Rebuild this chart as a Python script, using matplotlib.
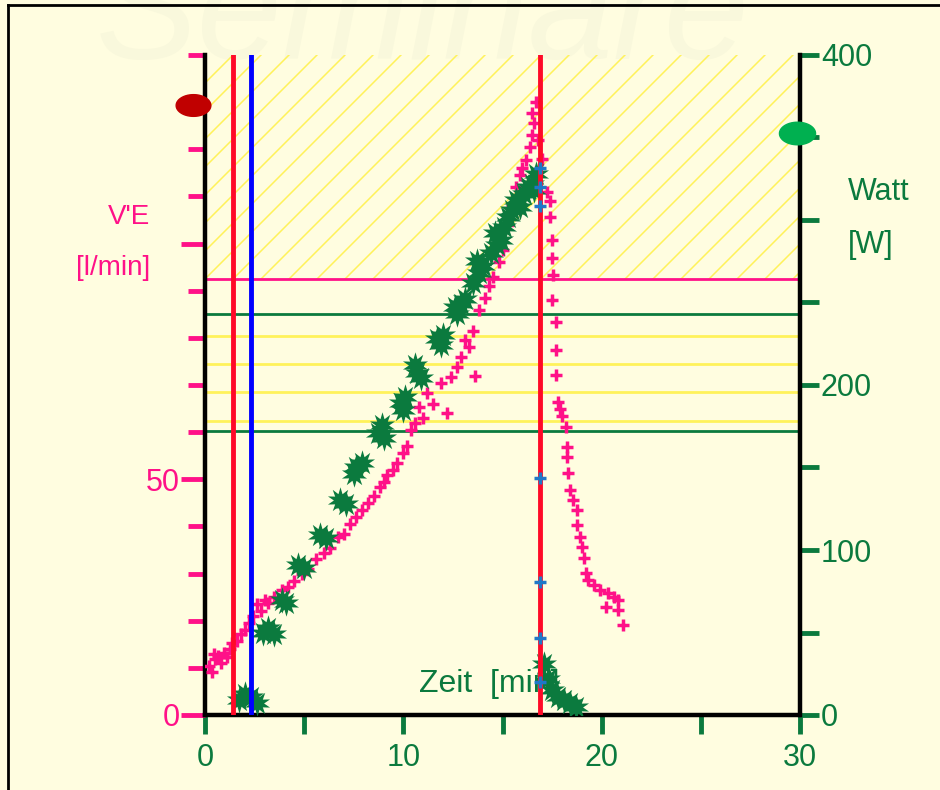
import numpy as np
import matplotlib.pyplot as plt
from matplotlib.path import Path

plt.rcParams['font.family'] = ['Liberation Sans', 'DejaVu Sans']

# V'E [l/min] over time [min]
ve_t = [0.2, 0.35, 0.5, 0.65, 0.8, 0.95, 1.1, 1.25, 0.45, 1.35,
        1.6, 1.8, 2.0, 2.2, 2.4, 2.6, 2.8, 3.0, 3.2, 3.5,
        3.9, 4.2, 4.5, 4.9, 5.2, 5.6, 6.0, 6.3, 6.7, 7.0,
        7.3, 7.6, 7.9, 8.2, 8.5, 8.8, 9.0, 9.2, 9.5, 9.7,
        10.0, 10.2, 10.4, 10.6, 10.8, 11.0, 11.2, 11.5, 11.9, 12.2,
        12.4, 12.7, 12.9, 13.1, 13.3, 13.5, 13.6, 13.8, 14.1, 14.3,
        14.5, 14.8, 15.0, 15.3, 15.5, 15.7, 15.9, 16.0, 16.2, 16.4,
        16.5, 16.6, 16.5, 16.7, 16.8,
        17.0, 17.25, 17.4, 17.4, 17.5, 17.5, 17.55, 17.5, 17.7, 17.7,
        17.7, 17.8, 17.9, 18.0, 18.2, 18.25, 18.25, 18.3, 18.4, 18.55,
        18.75, 18.75, 18.9, 19.0, 19.1, 19.2, 19.3, 19.6, 19.9, 20.3,
        20.6, 20.8, 20.2, 20.8, 21.1]
ve = [10.5, 9.2, 11.8, 12.6, 11.0, 13.1, 12.2, 14.0, 13.0, 15.2,
      15.8, 17.2, 18.0, 19.5, 21.0, 23.5, 22.0, 24.5, 23.8, 25.0,
      26.5, 27.2, 28.5, 30.0, 31.0, 33.0, 34.4, 35.5, 37.8, 38.5,
      40.6, 42.0, 43.5, 45.0, 46.4, 48.4, 49.5, 51.0, 52.0, 53.5,
      55.5, 57.0, 60.5, 62.0, 65.3, 63.0, 68.3, 66.0, 70.4, 64.0,
      71.7, 73.8, 76.0, 79.5, 78.0, 81.5, 72.0, 86.0, 88.5, 91.0,
      93.0, 96.0, 98.6, 104.0, 108.0, 112.0, 114.5, 116.0, 117.7, 120.5,
      123.0, 125.5, 127.7, 130.0, 122.0,
      118.0, 111.0, 109.0, 105.6, 100.8, 97.0, 93.3, 88.0, 83.4, 77.4,
      72.1, 66.4, 65.0, 63.5, 61.0, 56.9, 54.7, 51.3, 47.7, 45.6,
      43.5, 40.3, 37.8, 35.6, 33.3, 30.1, 28.6, 27.6, 26.5, 25.9,
      25.0, 24.4, 22.9, 22.3, 19.1]

# Watt [W] over time [min]
w_t = [1.7, 2.0, 2.3, 2.6,
       2.9, 3.2, 3.5, 3.9, 4.1, 4.7, 5.0, 5.8, 6.1, 6.8, 7.1,
       7.6, 7.9, 7.5, 8.7, 9.0, 8.9, 9.9, 10.1, 10.0, 10.7, 10.9, 10.6,
       11.7, 12.0, 11.9, 12.6, 12.9, 12.7, 13.1, 13.5, 13.8, 14.0, 13.7,
       14.4, 14.7, 14.9, 14.6, 15.1, 15.3, 15.5, 15.7, 15.9,
       16.1, 16.3, 16.5, 16.7, 16.6,
       17.1, 17.3, 17.5, 17.8, 18.1, 18.4, 18.7]
watt = [9, 13, 11, 7,
        50, 53, 49, 70, 68, 91, 89, 109, 107, 130, 128,
        150, 153, 146, 171, 168, 176, 189, 193, 185, 207, 204, 212,
        228, 230, 224, 247, 249, 243, 252, 262, 268, 272, 275,
        280, 285, 288, 292, 296, 302, 306, 312, 308,
        316, 320, 322, 328, 318,
        31, 22, 15, 11, 9, 7, 5]

# small blue marks on the end-of-load line (V'E scale)
mark_ve = [116, 112, 108, 50.3, 28.2, 16.3, 7]

phase_red = [1.4, 16.9]
phase_blue = 2.3
ve_hatch = (92.5, 140)
green_levels = [85.1, 60.2]
yellow_levels = [80.4, 74.5, 68.5, 62.3]

BG = '#FFFDE0'
PINK = '#FF1188'
GREEN = '#0B7A3E'
RED = '#FF0A28'
YEL = '#FFF25A'

fig = plt.figure(figsize=(9.4, 7.9), dpi=100, facecolor=BG)

# faint watermark
fig.text(0.45, 0.975, 'Seminare', fontsize=110, style='italic', color='#F9F8DC',
         ha='center', va='center', zorder=-5)

ax = fig.add_axes([205 / 940, 75 / 790, 595 / 940, 660 / 790])
ax.set_facecolor('none')
ax.set_xlim(0, 30)
ax.set_ylim(0, 140)
ax2 = ax.twinx()
ax2.set_ylim(0, 400)

# hatched zone
span = ax.axhspan(*ve_hatch, facecolor='none', edgecolor='none')
wpx, hpx = 595, 660
for c in np.arange(-hpx, wpx, 28):
    ln, = ax.plot([c / wpx, (c + hpx) / wpx], [0, 1], transform=ax.transAxes,
                  color=YEL, lw=1.1, zorder=1)
    ln.set_clip_path(span)

for v in yellow_levels:
    ax.axhline(v, color=YEL, lw=2, zorder=1)
for v in green_levels:
    ax.axhline(v, color=GREEN, lw=2, zorder=1.5)
ax.axhline(ve_hatch[0], color=PINK, lw=2, zorder=1.5)

ax.plot(ve_t, ve, ls='none', marker='+', ms=9, mew=2.5, color=PINK, zorder=3)
ax2.plot(w_t, watt, ls='none', marker=(10, 1, 0), ms=19, mew=0, color=GREEN, zorder=4)

ax2.text(10.8, 19, 'Zeit  [min]', color=GREEN, fontsize=23, ha='left', va='center', zorder=3)

for x in phase_red:
    ax2.axvline(x, color=RED, lw=3.5, zorder=5)
ax2.axvline(phase_blue, color='#0000FF', lw=3.5, zorder=5)
ax2.plot([phase_red[1]] * len(mark_ve), [v * 400 / 140 for v in mark_ve], ls='none',
         marker='+', ms=8, mew=2.5, color='#1E78C8', zorder=6)

# ellipse markers at the axes
th = np.linspace(0, 2 * np.pi, 60)
ell = Path(np.column_stack([1.6 * np.cos(th), np.sin(th)]), closed=True)
ax.plot([-0.6], [129.4], marker=ell, ms=25, color='#C00000', clip_on=False, zorder=8)
ax2.plot([29.85], [352.7], marker=ell, ms=26, color='#00B050', clip_on=False, zorder=8)

# spines
for s in ['top', 'right']:
    ax.spines[s].set_visible(False)
for s in ['top', 'left', 'bottom']:
    ax2.spines[s].set_visible(False)
for a, s in [(ax, 'left'), (ax, 'bottom'), (ax2, 'right')]:
    a.spines[s].set_linewidth(3.2)
    a.spines[s].set_color('black')

ax.set_xticks(range(0, 31, 5))
ax.set_xticklabels(['0', '', '10', '', '20', '', '30'])
ax.tick_params(axis='x', colors=GREEN, length=14, width=3.5, labelsize=22, pad=6)

ax.set_yticks([0, 50, 100])
ax.set_yticklabels(['0', '50', ''])
ax.set_yticks(range(0, 141, 10), minor=True)
ax.tick_params(axis='y', which='major', colors=PINK, length=17, width=3.5, labelsize=22, pad=1)
ax.tick_params(axis='y', which='minor', colors=PINK, length=12, width=3.5)

ax2.set_yticks(range(0, 401, 50))
ax2.set_yticklabels(['0', '', '100', '', '200', '', '', '', '400'])
ax2.tick_params(axis='y', colors=GREEN, length=14, width=3.5, labelsize=22, pad=1)

fig.text(150 / 940, 1 - 217 / 790, "V'E", color=PINK, fontsize=20, ha='right', va='center')
fig.text(150 / 940, 1 - 268 / 790, '[l/min]', color=PINK, fontsize=20, ha='right', va='center')
fig.text(848 / 940, 1 - 192 / 790, 'Watt', color=GREEN, fontsize=22, ha='left', va='center')
fig.text(848 / 940, 1 - 245 / 790, '[W]', color=GREEN, fontsize=22, ha='left', va='center')

# frame
fig.add_artist(plt.Line2D([8 / 940, 8 / 940], [0, 1 - 5 / 790], color='black', lw=2))
fig.add_artist(plt.Line2D([8 / 940, 1], [1 - 5 / 790, 1 - 5 / 790], color='black', lw=2))

fig.savefig('out.png', dpi=100, facecolor=BG)
